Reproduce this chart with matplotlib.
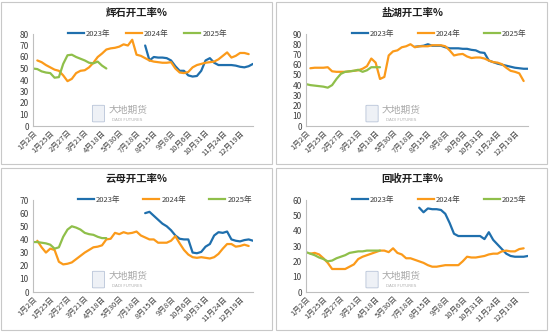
import numpy as np
import matplotlib
matplotlib.use("Agg")
import matplotlib.pyplot as plt
from matplotlib.lines import Line2D
from matplotlib.patches import Rectangle, FancyBboxPatch

plt.rcParams['font.family'] = ['Noto Sans CJK SC', 'DejaVu Sans']

N = 52
tick_labels = ['1月2日', '1月25日', '2月27日', '3月21日', '4月18日', '5月30日', '7月18日',
               '8月15日', '9月8日', '10月6日', '10月31日', '11月24日', '12月19日']

def series(start, vals):
    arr = [np.nan] * N
    for k, v in enumerate(vals):
        arr[start + k] = v
    return arr

# 辉石开工率%
hs_2023 = series(26, [70, 57, 60, 59.5, 59.5, 59, 57, 52, 48, 48, 44, 43, 43.5, 48, 57, 59, 55,
                      53, 53, 53, 53, 52.5, 51.5, 51, 52, 54])
hs_2024 = series(1, [57, 55.5, 53, 51, 49, 48, 44, 39, 41, 46, 48, 48.5, 51, 55, 60, 63, 66.5, 67.5,
                     68, 69, 71, 70, 75, 62, 61, 59, 57, 56, 55.5, 55, 55, 55.5, 50, 46.5, 46, 47,
                     51, 53, 54, 55, 55.5, 56, 58, 61, 64, 59.5, 61, 63.5, 63.5, 62.5])
hs_2025 = series(0, [50, 49.5, 47.5, 46.5, 46, 42, 42.5, 54, 61.5, 62, 60, 58.5, 57, 55, 54.5, 56,
                     52.5, 50])

# 盐湖开工率%
yh_2023 = series(25, [77.5, 78, 78.5, 80, 78.5, 78.5, 78.5, 77, 76, 76, 76, 75.5, 75.5, 74.5, 74,
                      72, 71.5, 64, 62.5, 61, 60, 59, 58, 57, 56.5, 56, 56])
yh_2024 = series(1, [56.5, 57, 57, 57, 57.5, 53.5, 53, 53, 53, 53.5, 54, 54.5, 56, 58.5, 66, 62, 46,
                     48, 69, 73, 74, 77, 78, 80, 77, 78, 78, 78, 79, 79, 79, 78, 74, 69, 70, 70.5,
                     68, 66.5, 67, 67, 66, 64, 62.5, 62, 60.5, 57, 54, 53, 51.5, 44])
yh_2025 = series(0, [41, 40, 39.5, 39, 38.5, 37.5, 40, 46, 51, 53, 53.5, 54, 55, 53, 54.5, 57.5,
                     57.5, 57.5])

# 云母开工率%
ym_2023 = series(26, [60, 61, 58, 55, 52, 50, 47, 43, 40.5, 40, 40, 30, 29.5, 30.5, 34.5, 36.5, 43,
                      45.5, 45, 46, 40, 39, 38.5, 39.5, 40, 39])
ym_2024 = series(1, [39, 34, 30, 33, 32, 23, 21, 21.5, 22.5, 25, 27.5, 30, 32, 34, 34.5, 35.5, 40,
                     40.5, 45, 44, 45.5, 44.5, 45, 46, 43, 41.5, 40, 40, 37.5, 37.5, 37.5, 39, 42.5,
                     37, 32, 28.5, 26.5, 26, 26.5, 26, 25.5, 26.5, 29, 33, 36.5, 36.5, 34.5, 35,
                     36, 35])
ym_2025 = series(0, [38, 38, 37.5, 37, 36, 33, 34, 42, 47.5, 50, 49, 47.5, 45, 44, 43.5, 42, 41, 41])

# 回收开工率%
hsh_2023 = series(26, [55, 52, 54.5, 54, 54, 53.5, 51, 45, 38, 36.5, 36.5, 36.5, 36.5, 36.5, 36.5,
                       34.5, 39, 34, 31, 28, 25, 23.5, 23, 23, 23, 23.5])
hsh_2024 = series(1, [25, 25.5, 24.5, 22, 19, 15, 15, 15, 15, 16.5, 18, 21.5, 23, 24, 25, 26, 27,
                      27, 26, 28.5, 25.5, 24.5, 22, 22, 21, 20, 19, 17.5, 16.5, 16.5, 17, 17.5,
                      17.5, 17.5, 17.5, 20, 23, 22.5, 22.5, 23, 23.5, 24.5, 25, 25, 26.5, 27, 26.5,
                      26.5, 28, 28.5])
hsh_2025 = series(0, [26, 25, 24, 22.5, 21.5, 20, 20.5, 22, 23, 24, 25.5, 26, 26.5, 26.5, 27, 27,
                      27, 27])

years = ['2023年', '2024年', '2025年']
colors = ['#1f6fad', '#fb9a1a', '#8fbf4a']

panels = [
    ('辉石开工率%', [hs_2023, hs_2024, hs_2025], 80, 10, (0, 0), 0.52),
    ('盐湖开工率%', [yh_2023, yh_2024, yh_2025], 90, 10, (1, 0), 0.60),
    ('云母开工率%', [ym_2023, ym_2024, ym_2025], 70, 10, (0, 1), 0.60),
    ('回收开工率%', [hsh_2023, hsh_2024, hsh_2025], 60, 10, (1, 1), 0.60),
]

W, H = 550, 333
fig = plt.figure(figsize=(W / 100, H / 100), dpi=100)

x = np.arange(N)
for title, data, ymax, ystep, (cx, cy), legx in panels:
    ox = cx * 275
    oy = cy * 166
    # panel frame
    fig.patches.append(Rectangle(((ox + 1) / W, 1 - (oy + 164) / H), 271 / W, 162 / H,
                                 transform=fig.transFigure, fill=False,
                                 edgecolor='#c8c8c8', linewidth=0.8))
    left = ox + (33 if cx == 0 else 31)
    right = ox + 253
    top = oy + 34
    bottom = oy + 126
    ax = fig.add_axes([left / W, 1 - bottom / H, (right - left) / W, (bottom - top) / H])
    for c, d in zip(colors, data):
        ax.plot(x, d, color=c, linewidth=1.6, solid_capstyle='round', solid_joinstyle='round')
    ax.set_xlim(0, N - 1)
    ax.set_ylim(0, ymax)
    ax.set_yticks(np.arange(0, ymax + 1, ystep))
    ax.set_xticks(np.arange(0, N, 4))
    ax.set_xticklabels(tick_labels, rotation=45, ha='right', rotation_mode='anchor', fontsize=5.5)
    ax.tick_params(axis='y', labelsize=6, length=0, pad=3, colors='#404040')
    ax.tick_params(axis='x', length=0, pad=2, colors='#404040')
    for s in ['top', 'right']:
        ax.spines[s].set_visible(False)
    for s in ['left', 'bottom']:
        ax.spines[s].set_color('#bfbfbf')
        ax.spines[s].set_linewidth(0.8)
    fig.text((ox + 137) / W, 1 - (oy + 13) / H, title, ha='center', va='center',
             fontsize=7.5, fontweight='bold', color='#202020')
    handles = [Line2D([], [], color=c, linewidth=1.6) for c in colors]
    ax.legend(handles, years, loc='center', bbox_to_anchor=(legx, 1.0), ncol=3,
              frameon=False, fontsize=5.5, handlelength=2.1, handletextpad=0.3,
              columnspacing=3.0 if cx == 1 or cy == 1 else 2.0, labelcolor='#404040')
    # watermark
    ax.add_patch(FancyBboxPatch((0.275, 0.05), 0.045, 0.17, boxstyle='round,pad=0.005',
                                transform=ax.transAxes, facecolor='#eef1f6',
                                edgecolor='#b8c4d8', linewidth=0.6))
    ax.text(0.43, 0.17, '大地期货', transform=ax.transAxes, fontsize=7, color='#a8a8a8',
            ha='center', va='center')
    ax.text(0.43, 0.06, 'DADI FUTURES', transform=ax.transAxes, fontsize=3, color='#b0b0b0',
            ha='center', va='center', family=['DejaVu Sans'])

fig.savefig('out.png', dpi=100)
